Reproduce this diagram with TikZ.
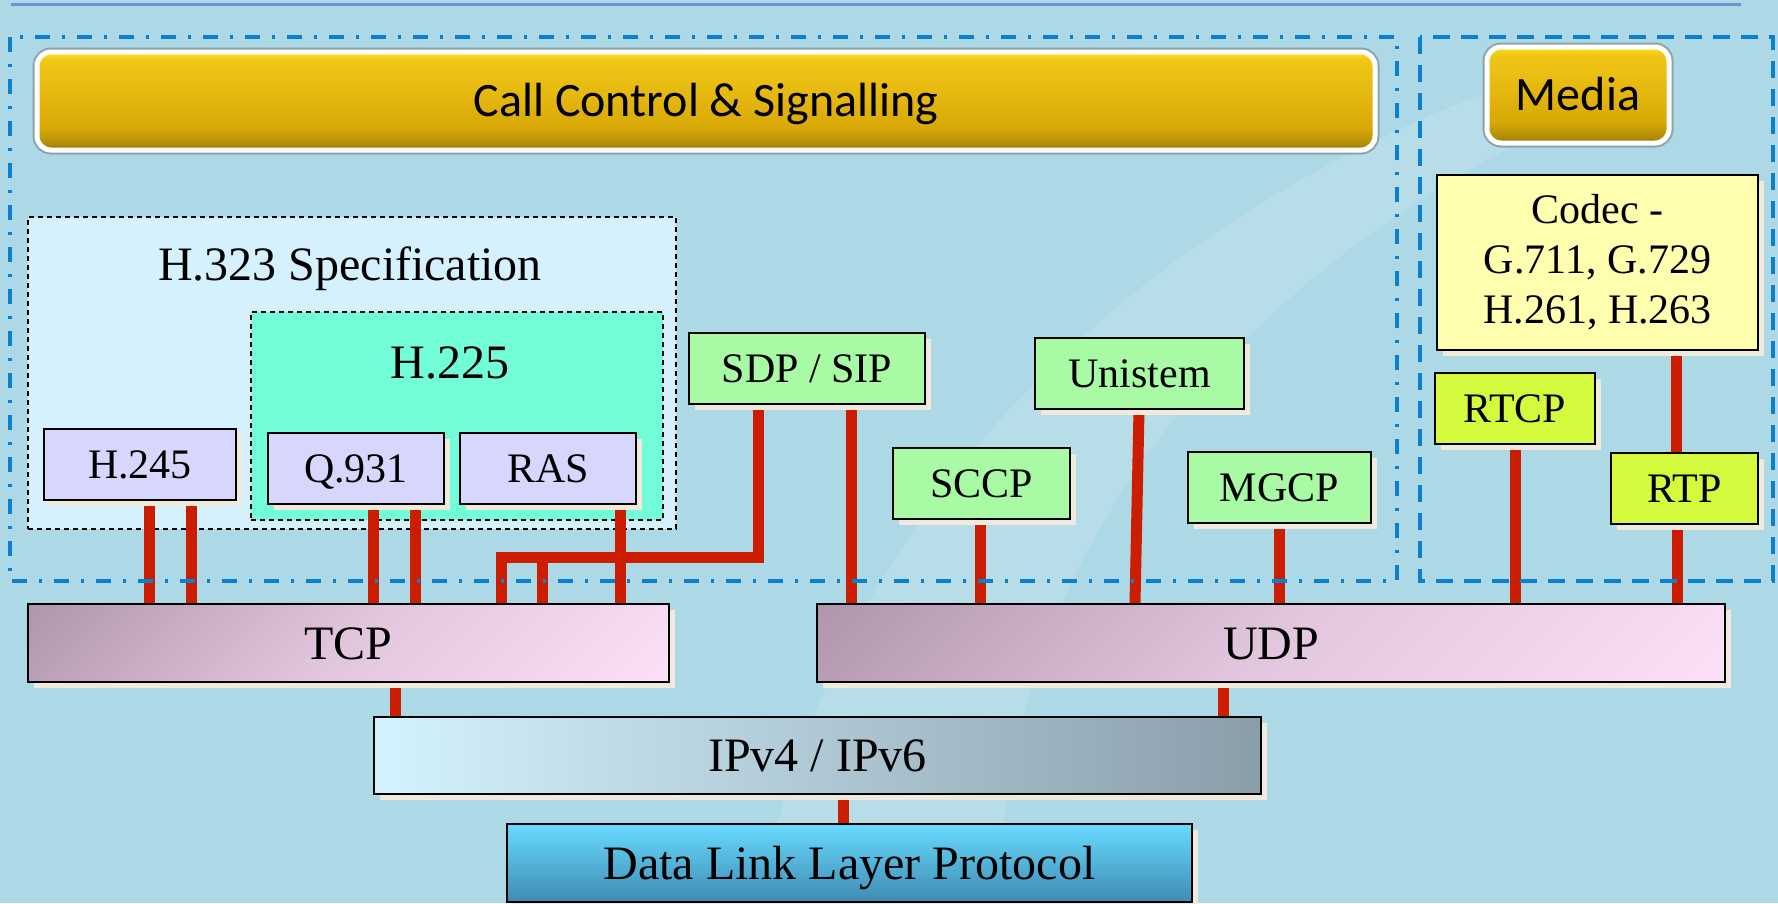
\documentclass[tikz,border=0pt]{standalone}
\usepackage{fontspec}
\setmainfont{Liberation Serif}
\newfontfamily\calibfont{Carlito}
\usetikzlibrary{calc}
\definecolor{bgc}{HTML}{ACD9E5}
\definecolor{topline}{HTML}{6B95D1}
\definecolor{dashblue}{HTML}{0A80CF}
\definecolor{redc}{HTML}{CC1D00}
\definecolor{shadowc}{HTML}{EFEADB}
\definecolor{lav}{HTML}{D7D7FD}
\definecolor{grn}{HTML}{A8FBA4}
\definecolor{lime}{HTML}{D4FA3D}
\definecolor{codecc}{HTML}{FFFDAE}
\definecolor{h323c}{HTML}{D5F1FE}
\definecolor{h225c}{HTML}{72FCD7}
\definecolor{tcpa}{HTML}{B096AC}
\definecolor{tcpm}{HTML}{E2C6DE}
\definecolor{tcpb}{HTML}{FBE0F8}
\definecolor{ipa}{HTML}{D4F2FF}
\definecolor{ipm}{HTML}{B8CFDC}
\definecolor{ipb}{HTML}{8A9EAA}
\definecolor{dla}{HTML}{68DAFF}
\definecolor{dlb}{HTML}{3F8BB2}
\definecolor{ytop}{HTML}{FFE31C}
\definecolor{yhi}{HTML}{F0C616}
\definecolor{ymid}{HTML}{E9BC12}
\definecolor{ylo}{HTML}{D8A806}
\definecolor{yd}{HTML}{B08C08}
\definecolor{ybot}{HTML}{8A6C0A}
\definecolor{btnsh}{HTML}{8DA3AC}
\pgfdeclareverticalshading{ybtn}{100bp}{color(0bp)=(ybot); color(25bp)=(ybot); color(28bp)=(yd); color(36bp)=(ylo); color(58bp)=(ymid); color(71bp)=(yhi); color(75bp)=(ytop); color(100bp)=(ytop)}
\pgfdeclareverticalshading{tcpsh}{100bp}{color(0bp)=(tcpb); color(14.6bp)=(tcpb); color(50bp)=(tcpm); color(85.4bp)=(tcpa); color(100bp)=(tcpa)}
\pgfdeclarelayer{bgl}
\pgfdeclarelayer{redl}
\pgfsetlayers{bgl,redl,main}
\newcommand\fsS{\fontsize{42}{50}\selectfont}
\newcommand\fsL{\fontsize{48}{58}\selectfont}
\tikzset{
 box/.style={draw=black, line width=2pt, inner sep=0pt, font=\fsS, text height=28pt, text depth=0pt,
   preaction={fill=shadowc, transform canvas={shift={(6pt,-6pt)}}}},
 bigbox/.style={box, font=\fsL, text height=32pt},
 diag/.style={shading=tcpsh, shading angle=45},
 redline/.style={draw=redc, line width=11pt},
 btn/.style={rounded corners=14pt, draw=white, line width=5pt, inner sep=0pt,
   shading=ybtn,
   preaction={draw=btnsh, line width=9pt},
   font=\calibfont\fsL, text height=31pt, text depth=0pt},
 ccdash/.style={draw=dashblue, line width=3.5pt, dash pattern=on 15pt off 12pt on 3pt off 12pt},
 mdash/.style={draw=dashblue, line width=3.5pt, dash pattern=on 17pt off 11pt},
 lbl/.style={inner sep=0pt, text depth=0pt},
 specbox/.style={draw=black, line width=1.3pt, dash pattern=on 5pt off 4pt, inner sep=0pt},
}
\begin{document}
\begin{tikzpicture}[x=1pt,y=-1pt]
\useasboundingbox (0,0) rectangle (1778,903);
\begin{pgfonlayer}{bgl}
\fill[bgc] (0,0) rectangle (1778,903);
\fill[white, opacity=.12] (760,903) .. controls (820,560) and (1080,250) .. (1480,95) -- (1620,95) .. controls (1230,260) and (1000,560) .. (1000,903) -- cycle;
\node[specbox, fill=h323c, minimum width=648pt, minimum height=312pt] (h323) at (352,373) {};
\node[specbox, fill=h225c, minimum width=412pt, minimum height=208pt] (h225) at (457,416) {};
\node[lbl, font=\fsL, text height=33pt] (h323t) at (350,263.5) {H.323 Specification};
\node[lbl, font=\fsL, text height=32pt] (h225t) at (450,362.5) {H.225};
\end{pgfonlayer}
% top rule
\draw[topline, line width=3pt] (11,4.5) -- (1741,4.5);
% dashed regions
\draw[ccdash] (10,37) rectangle (1397,581);
\draw[mdash] (1420,37) rectangle (1773,581);
% buttons
\node[btn, minimum width=1338pt, minimum height=98pt] (cc) at (706,101) {Call Control \& Signalling};
\node[btn, minimum width=182pt, minimum height=96pt] (media) at (1578,95) {Media};
% protocol boxes
\node[box, fill=lav, minimum width=192pt, minimum height=71pt] (h245) at (140,464.5) {H.245};
\node[box, fill=lav, minimum width=176pt, minimum height=71pt] (q931) at (356,468.5) {Q.931};
\node[box, fill=lav, minimum width=176pt, minimum height=71pt] (ras) at (548,468.5) {RAS};
\node[box, fill=grn, minimum width=236pt, minimum height=71pt] (sdp) at (807,368.5) {SDP / SIP};
\node[box, fill=grn, minimum width=177pt, minimum height=71pt] (sccp) at (981.5,483.5) {SCCP};
\node[box, fill=grn, minimum width=209pt, minimum height=71pt] (unistem) at (1139.5,373.5) {Unistem};
\node[box, fill=grn, minimum width=183pt, minimum height=71pt] (mgcp) at (1279.5,487.5) {MGCP};
\node[box, fill=codecc, minimum width=321pt, minimum height=175pt, text height=, text depth=, align=center] (codec) at (1597.5,262) {Codec -\\G.711, G.729\\H.261, H.263};
\node[box, fill=lime, minimum width=160pt, minimum height=71pt] (rtcp) at (1515,408.5) {RTCP};
\node[box, fill=lime, minimum width=147pt, minimum height=71pt] (rtp) at (1684.5,488.5) {RTP};
\node[bigbox, diag, minimum width=641pt, minimum height=78pt] (tcp) at (348.3,643) {TCP};
\node[bigbox, diag, minimum width=908pt, minimum height=78pt] (udp) at (1271,643) {UDP};
\node[bigbox, left color=ipa, middle color=ipm, right color=ipb, minimum width=887pt, minimum height=77pt] (ip) at (817.5,755.5) {IPv4 / IPv6};
\node[bigbox, top color=dla, bottom color=dlb, minimum width=685pt, minimum height=78pt] (dl) at (849.5,863) {Data Link Layer Protocol};
% connector x positions
\coordinate (a1) at (149,0);
\coordinate (a2) at (191,0);
\coordinate (a3) at (373,0);
\coordinate (a4) at (415,0);
\coordinate (a5) at (620,0);
\coordinate (s1) at (758,0);
\coordinate (j1) at (501,557);
\coordinate (j2) at (542,557);
\coordinate (s2) at (851,0);
\coordinate (b1) at (980,0);
\coordinate (u1) at (1139,0);
\coordinate (u2) at (1135,0);
\coordinate (b3) at (1279,0);
\coordinate (b4) at (1515,0);
\coordinate (b5) at (1677,0);
\coordinate (b6) at (1676,0);
\coordinate (t1) at (395,0);
\coordinate (t2) at (1223,0);
\coordinate (t3) at (843,0);
\begin{pgfonlayer}{redl}
\draw[redline] (h245.south -| a1) -- (tcp.north -| a1);
\draw[redline] (h245.south -| a2) -- (tcp.north -| a2);
\draw[redline] (q931.south -| a3) -- (tcp.north -| a3);
\draw[redline] (q931.south -| a4) -- (tcp.north -| a4);
\draw[redline] (ras.south -| a5) -- (tcp.north -| a5);
\draw[redline] (sdp.south -| s1) |- (j1) -- (tcp.north -| j1);
\draw[redline] (j2) -- (tcp.north -| j2);
\draw[redline] (sdp.south -| s2) -- (udp.north -| s2);
\draw[redline] (sccp.south -| b1) -- (udp.north -| b1);
\draw[redline] (unistem.south -| u1) -- (udp.north -| u2);
\draw[redline] (mgcp.south -| b3) -- (udp.north -| b3);
\draw[redline] (rtcp.south -| b4) -- (udp.north -| b4);
\draw[redline] (rtp.south -| b5) -- (udp.north -| b5);
\draw[redline] (codec.south -| b6) -- (rtp.north -| b6);
\draw[redline] (tcp.south -| t1) -- (ip.north -| t1);
\draw[redline] (udp.south -| t2) -- (ip.north -| t2);
\draw[redline] (ip.south -| t3) -- (dl.north -| t3);
\end{pgfonlayer}
\end{tikzpicture}
\end{document}
